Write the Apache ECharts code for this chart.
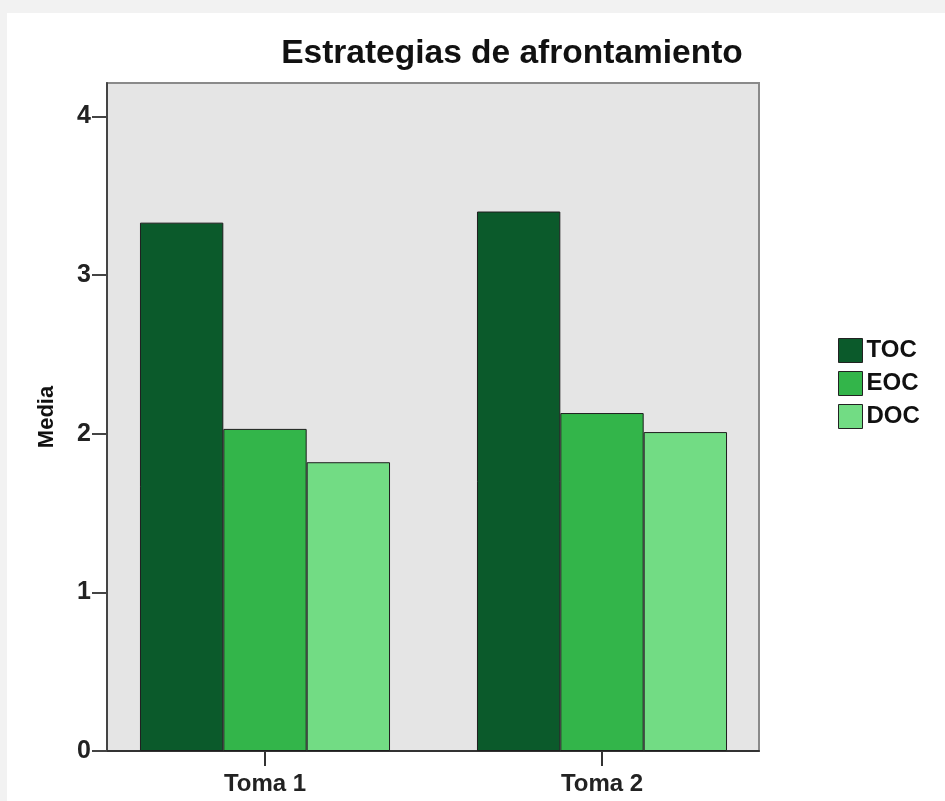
<!DOCTYPE html>
<html>
<head>
<meta charset="utf-8">
<title>Estrategias de afrontamiento</title>
<script src="https://cdn.jsdelivr.net/npm/echarts@6/dist/echarts.min.js"></script>
<style>
  html, body { margin: 0; padding: 0; background: #f2f2f2; }
  #chart { width: 945px; height: 801px; }
</style>
</head>
<body>
<div id="chart"></div>
<script>
// Coping strategy means per measurement
const categories = ['Toma 1', 'Toma 2'];
const seriesNames = ['TOC', 'EOC', 'DOC'];
const tocValues = [3.33, 3.40];
const eocValues = [2.03, 2.13];
const docValues = [1.82, 2.01];
const yTicks = [0, 1, 2, 3, 4];
const yMax = 4.21;

const colors = ['#0b5a2b', '#33b54a', '#72dc84'];
const font = 'Liberation Sans, Arial, sans-serif';

const chart = echarts.init(document.getElementById('chart'), null, { renderer: 'canvas' });

const values = [tocValues, eocValues, docValues];

chart.setOption({
  backgroundColor: '#f2f2f2',
  animation: false,
  graphic: [{
    type: 'rect',
    z: -10,
    silent: true,
    shape: { x: 7, y: 13, width: 945, height: 801 },
    style: { fill: '#ffffff' }
  }],
  title: {
    text: 'Estrategias de afrontamiento',
    left: 512,
    top: 37,
    textAlign: 'center',
    padding: 0,
    textStyle: { fontFamily: font, fontWeight: 'bold', fontSize: 33.5, color: '#111111' }
  },
  legend: {
    orient: 'vertical',
    left: 838,
    top: 338,
    padding: 0,
    itemWidth: 24,
    itemHeight: 24,
    itemGap: 8,
    icon: 'rect',
    data: seriesNames,
    textStyle: { fontFamily: font, fontWeight: 'bold', fontSize: 24, color: '#111111', padding: [2, 0, 0, -1] },
    itemStyle: { borderColor: '#222222', borderWidth: 1 }
  },
  grid: [
    // framed plot panel carrying the value axis
    { left: 107, top: 83, width: 652, height: 668, show: true, backgroundColor: '#e5e5e5',
      borderColor: '#8a8a8a', borderWidth: 2 },
    // bar layout area
    { left: 96.5, top: 83, width: 674, height: 668 }
  ],
  xAxis: [
    { type: 'value', gridIndex: 0, min: 0, max: 1,
      axisLine: { show: true, lineStyle: { color: '#333333', width: 2 } },
      axisTick: { show: false }, axisLabel: { show: false }, splitLine: { show: false } },
    { type: 'category', gridIndex: 1, data: categories,
      axisLine: { show: false },
      axisTick: { show: true, alignWithLabel: true, length: 15, lineStyle: { color: '#333333', width: 2 } },
      axisLabel: { fontFamily: font, fontWeight: 'bold', fontSize: 24, color: '#222222', margin: 21 },
      splitLine: { show: false } }
  ],
  yAxis: [
    { type: 'value', gridIndex: 0, min: 0, max: yMax,
      name: 'Media', nameLocation: 'middle', nameGap: 49, nameRotate: 90,
      nameTextStyle: { fontFamily: font, fontWeight: 'bold', fontSize: 22, color: '#111111' },
      axisLine: { show: true, lineStyle: { color: '#444444', width: 2 } },
      axisTick: { show: true, length: 15, customValues: yTicks, lineStyle: { color: '#444444', width: 2 } },
      axisLabel: { customValues: yTicks, fontFamily: font, fontWeight: 'bold', fontSize: 25, color: '#222222', margin: 16 },
      splitLine: { show: false } },
    { type: 'value', gridIndex: 1, min: 0, max: yMax, show: false }
  ],
  series: seriesNames.map((name, i) => ({
    name: name,
    type: 'bar',
    xAxisIndex: 1,
    yAxisIndex: 1,
    data: values[i],
    barGap: '0%',
    barCategoryGap: '25.8%',
    itemStyle: { color: colors[i], borderColor: '#1e1e1e', borderWidth: 1 }
  }))
});
</script>
</body>
</html>
